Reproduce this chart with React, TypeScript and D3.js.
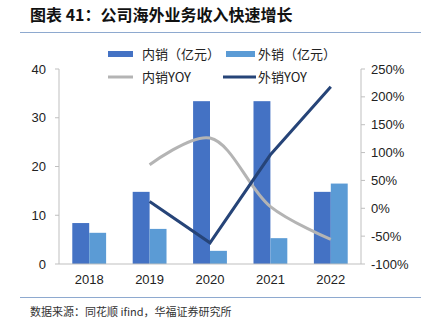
import React from "react";
import * as d3 from "d3";

const years = ["2018", "2019", "2020", "2021", "2022"];
const domestic = [8.4, 14.8, 33.4, 33.4, 14.8];
const foreign = [6.4, 7.2, 2.7, 5.3, 16.5];
const domesticYoy = [null, 78, 126, 3, -56];
const foreignYoy = [null, 12, -62, 96, 218];
const leftTicks = [0, 10, 20, 30, 40];
const rightTicks = [-100, -50, 0, 50, 100, 150, 200, 250];

const C_DOM = "#4472C4";
const C_FOR = "#5B9BD5";
const C_DYOY = "#B4B4B4";
const C_FYOY = "#264478";
const FONT = "'Liberation Sans', Arial, 'Noto Sans CJK SC', sans-serif";
const CJK = "'Noto Sans CJK SC', sans-serif";

export default function App() {
  const W = 422, H = 324;
  const x0 = 59, x1 = 361, yTop = 69, yBot = 264;
  const x = d3.scaleBand().domain(years).range([x0, x1]).paddingInner(0.44).paddingOuter(0.22);
  const xc = (d: string) => (x(d) as number) + x.bandwidth() / 2;
  const yL = d3.scaleLinear().domain([0, 40]).range([yBot, yTop]);
  const yR = d3.scaleLinear().domain([-100, 250]).range([yBot, yTop]);
  const bw = x.bandwidth() / 2;

  const pts = (arr: (number | null)[]) =>
    arr.map((v, i) => (v == null ? null : ([xc(years[i]), yR(v)] as [number, number]))).filter(Boolean) as [number, number][];
  const smooth = d3.line().curve(d3.curveCatmullRom.alpha(0.5));
  const straight = d3.line();

  return (
    <svg width={W} height={H} style={{ position: "absolute", left: 0, top: 0, background: "#fff" }}>
      <text x={30} y={21} fontFamily={CJK} fontWeight="bold" fontSize={16} fill="#111">图表 41：公司海外业务收入快速增长</text>
      <line x1={20} x2={421} y1={32.5} y2={32.5} stroke="#8EA9CF" strokeWidth={1.2} />

      {/* axes */}
      <line x1={x0} x2={x0} y1={yTop} y2={yBot} stroke="#BFBFBF" />
      <line x1={x1} x2={x1} y1={yTop} y2={yBot} stroke="#BFBFBF" />
      {leftTicks.map((t) => (
        <g key={"l" + t}>
          <line x1={x0 - 4} x2={x0} y1={yL(t)} y2={yL(t)} stroke="#BFBFBF" />
          <text x={46} y={yL(t)} dy="0.35em" textAnchor="end" fontFamily={FONT} fontSize={13} fill="#222">{t}</text>
        </g>
      ))}
      {rightTicks.map((t) => (
        <g key={"r" + t}>
          <line x1={x1} x2={x1 + 4} y1={yR(t)} y2={yR(t)} stroke="#BFBFBF" />
          <text x={371} y={yR(t)} dy="0.35em" textAnchor="start" fontFamily={FONT} fontSize={13} fill="#222">{t}%</text>
        </g>
      ))}

      {/* bars */}
      {years.map((yr, i) => (
        <g key={yr}>
          <rect x={x(yr) as number} y={yL(domestic[i])} width={bw} height={yBot - yL(domestic[i])} fill={C_DOM} />
          <rect x={(x(yr) as number) + bw} y={yL(foreign[i])} width={bw} height={yBot - yL(foreign[i])} fill={C_FOR} />
          <text x={xc(yr)} y={284} textAnchor="middle" fontFamily={FONT} fontSize={13} fill="#222">{yr}</text>
        </g>
      ))}
      <line x1={x0} x2={x1} y1={yBot} y2={yBot} stroke="#BFBFBF" />

      {/* lines */}
      <path d={smooth(pts(domesticYoy)) || ""} fill="none" stroke={C_DYOY} strokeWidth={3} />
      <path d={straight(pts(foreignYoy)) || ""} fill="none" stroke={C_FYOY} strokeWidth={3} />

      {/* legend */}
      <rect x={108} y={51} width={25} height={6} fill={C_DOM} />
      <text x={142} y={54} dy="0.35em" fontFamily={CJK} fontSize={13} fill="#222">内销（亿元）</text>
      <rect x={226} y={51} width={29} height={6} fill={C_FOR} />
      <text x={258} y={54} dy="0.35em" fontFamily={CJK} fontSize={13} fill="#222">外销（亿元）</text>
      <line x1={108} x2={133} y1={77} y2={77} stroke={C_DYOY} strokeWidth={3} />
      <text x={142} y={77} dy="0.35em" fontFamily={CJK} fontSize={13} fill="#222">内销YOY</text>
      <line x1={223} x2={256} y1={77} y2={77} stroke={C_FYOY} strokeWidth={3} />
      <text x={258} y={77} dy="0.35em" fontFamily={CJK} fontSize={13} fill="#222">外销YOY</text>

      <line x1={20} x2={421} y1={297.5} y2={297.5} stroke="#8EA9CF" strokeWidth={1.2} />
      <text x={30} y={316} fontFamily={CJK} fontSize={11} fill="#333">数据来源：同花顺 ifind，华福证券研究所</text>
    </svg>
  );
}
